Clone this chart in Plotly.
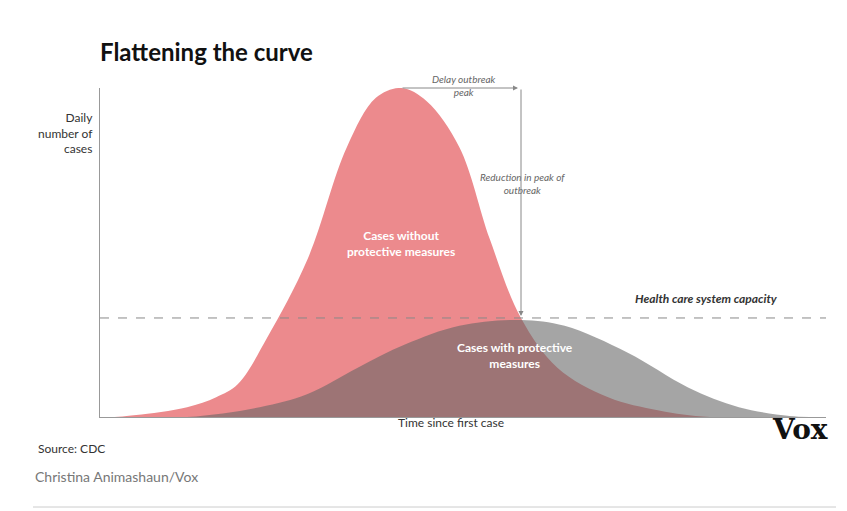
import plotly.graph_objects as go

# Data (x: time units 0-100, y: % of red peak)
red_x = [0, 2.5, 5, 12, 16, 19, 23, 28.6, 34, 38, 41.5, 45, 49.5, 53.7, 58, 63, 70, 77, 84, 100]
red_y = [0, 0.1, 0.6, 3, 6, 10, 24, 48, 82, 97, 100, 96, 82, 54, 30, 15, 6, 2, 0, 0]
gray_x = [0, 12, 22, 28.6, 35.5, 42, 49.5, 58, 64, 72.7, 81, 88, 95, 100]
gray_y = [0, 0, 3, 7, 15, 22, 27.7, 29.5, 27.7, 19.5, 9, 3, 0.3, 0]
capacity = 30.1

W, H = 847, 511
L, R, T, B = 92, 29, 80, 102
def px(x): return (x - L) / (W - L - R)
def py(y): return (H - B - y) / (H - T - B)

fig = go.Figure()
fig.add_trace(go.Scatter(x=red_x, y=red_y, mode="lines", line=dict(shape="spline", width=0, color="rgba(0,0,0,0)"),
                         fill="tozeroy", fillcolor="rgb(236,138,141)", hoverinfo="skip"))
fig.add_trace(go.Scatter(x=gray_x, y=gray_y, mode="lines", line=dict(shape="spline", width=0, color="rgba(0,0,0,0)"),
                         fill="tozeroy", fillcolor="rgba(100,100,100,0.58)", hoverinfo="skip"))
fig.add_shape(type="line", x0=0, x1=100, y0=capacity, y1=capacity, line=dict(color="#888", width=1, dash="dash"))

ann = []
def A(text, x, y, size=12, color="#333", xanchor="center", **kw):
    ann.append(dict(text=text, x=px(x), y=py(y), xref="paper", yref="paper", showarrow=False,
                    font=dict(size=size, color=color, family="Lato"), xanchor=xanchor, **kw))
A("<b>Flattening the curve</b>", 90, 27, 24, "#111", "left")
A("Daily<br>number of<br>cases", 87, 100, 12, "#333", "right", align="right")
A("Time since first case", 443, 424, 12, "#333")
A("Source: CDC", 28, 450, 12, "#333", "left")
A("Christina Animashaun/Vox", 25, 479, 14, "#777", "left")
A("<i>Delay outbreak<br>peak</i>", 456, 63, 10, "#666")
A("<i>Reduction in peak of<br>outbreak</i>", 514, 161, 10, "#666")
A("<b><i>Health care system capacity</i></b>", 772, 300, 12, "#333", "right")
A("<b>Cases without<br>protective measures</b>", 393, 236, 12, "white")
A("<b>Cases with protective<br>measures</b>", 507, 365, 12, "white")
ann.append(dict(text="<b>Vox</b>", x=px(822), y=py(440), xref="paper", yref="paper", showarrow=False,
                xanchor="right", font=dict(size=28, color="#111", family="DejaVu Serif")))
# arrows (tail offsets in pixels)
ann.append(dict(x=px(510), y=py(80), ax=-117, ay=0, xref="paper", yref="paper",
                text="", showarrow=True, arrowhead=2, arrowsize=1, arrowwidth=1, arrowcolor="#888"))
ann.append(dict(x=px(513), y=py(308), ax=0, ay=-228, xref="paper", yref="paper",
                text="", showarrow=True, arrowhead=2, arrowsize=1, arrowwidth=1, arrowcolor="#888"))

fig.add_shape(type="line", xref="paper", yref="paper", x0=px(25), x1=px(828), y0=py(499), y1=py(499),
              line=dict(color="#ccc", width=1))

fig.update_layout(width=W, height=H, margin=dict(l=L, r=R, t=T, b=B), showlegend=False,
                  plot_bgcolor="white", paper_bgcolor="white", annotations=ann,
                  xaxis=dict(range=[0, 100], showgrid=False, zeroline=False, showticklabels=False,
                             showline=True, linecolor="#999", ticks=""),
                  yaxis=dict(range=[0, 100], showgrid=False, zeroline=False, showticklabels=False,
                             showline=True, linecolor="#999", ticks=""))
fig.write_html("out.html")
